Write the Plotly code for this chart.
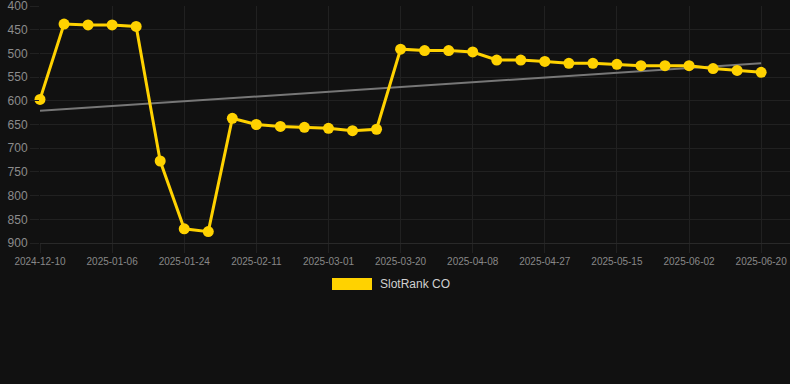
import plotly.graph_objects as go

dates = ["2024-12-10", "2024-12-19", "2024-12-28", "2025-01-06", "2025-01-12", "2025-01-18",
         "2025-01-24", "2025-01-30", "2025-02-05", "2025-02-11", "2025-02-17", "2025-02-23",
         "2025-03-01", "2025-03-07", "2025-03-14", "2025-03-20", "2025-03-26", "2025-04-01",
         "2025-04-08", "2025-04-14", "2025-04-21", "2025-04-27", "2025-05-03", "2025-05-09",
         "2025-05-15", "2025-05-21", "2025-05-27", "2025-06-02", "2025-06-08", "2025-06-14",
         "2025-06-20"]
rank = [597, 438, 440, 440, 443, 727, 870, 876, 637, 650, 654, 656, 658, 663, 660,
        491, 494, 494, 497, 514, 514, 517, 521, 521, 523, 526, 526, 526, 532, 536, 540]
trend_dates = [dates[0], dates[-1]]
trend_vals = [621, 521]
tick_labels = dates[::3]
y_ticks = [400, 450, 500, 550, 600, 650, 700, 750, 800, 850, 900]

BG = "#111111"
GRID = "#212121"
GOLD = "#FFD200"
FONT = "Liberation Sans, Arial, sans-serif"

fig = go.Figure()
fig.add_trace(go.Scatter(x=trend_dates, y=trend_vals, mode="lines",
                         line=dict(color="#777777", width=2), showlegend=False,
                         hoverinfo="skip", cliponaxis=False))
fig.add_trace(go.Scatter(x=dates, y=rank, mode="lines+markers", name="SlotRank CO",
                         line=dict(color=GOLD, width=3),
                         marker=dict(color=GOLD, size=11),
                         showlegend=False, cliponaxis=False))

fig.update_layout(
    width=790, height=384,
    paper_bgcolor=BG, plot_bgcolor=BG,
    margin=dict(l=40, r=0, t=6, b=141),
    font=dict(family=FONT, color="#888888"),
    xaxis=dict(type="category", categoryorder="array", categoryarray=dates,
               range=[0, 31.2], tickmode="array", tickvals=tick_labels, ticktext=tick_labels,
               showgrid=True, gridcolor=GRID, gridwidth=1,
               ticks="outside", ticklen=9, tickcolor=GRID,
               tickfont=dict(size=10, color="#888888"),
               showline=True, linecolor="#292929", zeroline=False,
               ticklabeloverflow="allow"),
    yaxis=dict(range=[900.01, 399.99], tickmode="array", tickvals=y_ticks,
               showgrid=True, gridcolor=GRID, gridwidth=1,
               ticks="outside", ticklen=9, tickcolor=GRID,
               tickfont=dict(size=12, color="#8c8c8c"), zeroline=False,
               ticklabeloverflow="allow"),
)

# legend
fig.add_shape(type="rect", xref="paper", yref="paper",
              x0=(332 - 40) / 750, x1=(372 - 40) / 750,
              y0=(243 - 290) / 237, y1=(243 - 278) / 237,
              fillcolor=GOLD, line=dict(width=0))
fig.add_annotation(xref="paper", yref="paper", x=(378 - 40) / 750, y=(243 - 284) / 237,
                   text="SlotRank CO", showarrow=False, xanchor="left", yanchor="middle",
                   font=dict(size=12, color="#d0d0d0", family=FONT))

fig.write_html("out.html", config={"displayModeBar": False},
               post_script="document.body.style.margin='0';document.body.style.background='#111111';")
